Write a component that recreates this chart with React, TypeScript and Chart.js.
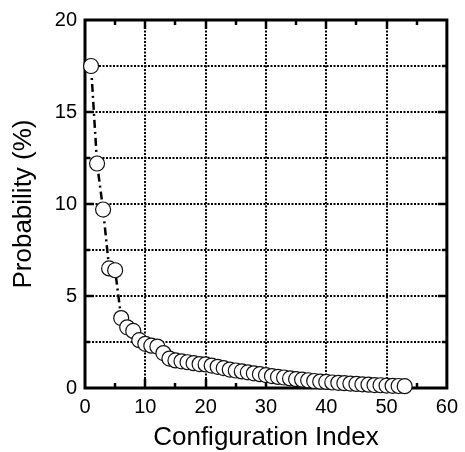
import React, { useEffect, useRef } from "react";
import { Chart, registerables } from "chart.js";

Chart.register(...registerables);

const configIndex: number[] = Array.from({ length: 53 }, (_, i) => i + 1);
const probability: number[] = [
  17.5, 12.2, 9.7, 6.5, 6.4, 3.8, 3.3, 3.1, 2.6, 2.4,
  2.3, 2.25, 1.9, 1.6, 1.5, 1.45, 1.4, 1.35, 1.3, 1.28,
  1.22, 1.15, 1.08, 1.0, 0.95, 0.9, 0.85, 0.8, 0.75, 0.7,
  0.65, 0.6, 0.57, 0.52, 0.48, 0.45, 0.42, 0.38, 0.35, 0.33,
  0.3, 0.28, 0.26, 0.24, 0.22, 0.2, 0.18, 0.16, 0.15, 0.13,
  0.12, 0.11, 0.1,
];

const xGridValues = [10, 20, 30, 40, 50];
const yGridValues = [2.5, 5, 7.5, 10, 12.5, 15, 17.5];
const xMajorTicks = [10, 20, 30, 40, 50];
const xMinorTicks = [5, 15, 25, 35, 45, 55];
const yMajorTicks = [5, 10, 15];
const yMinorTicks = [2.5, 7.5, 12.5, 17.5];

const FONT = "'Liberation Sans', Arial, Helvetica, sans-serif";

const framePlugin = {
  id: "frame",
  beforeDatasetsDraw(chart: any) {
    const { ctx, chartArea } = chart;
    const { left, right, top, bottom } = chartArea;
    const xs = chart.scales.x;
    const ys = chart.scales.y;
    const line = (x1: number, y1: number, x2: number, y2: number) => {
      ctx.beginPath();
      ctx.moveTo(x1, y1);
      ctx.lineTo(x2, y2);
      ctx.stroke();
    };
    ctx.save();
    ctx.strokeStyle = "#000";
    ctx.lineWidth = 2;
    ctx.setLineDash([2, 1.5]);
    for (const v of xGridValues) {
      const px = Math.round(xs.getPixelForValue(v));
      line(px, top, px, bottom);
    }
    for (const v of yGridValues) {
      const py = Math.round(ys.getPixelForValue(v));
      line(left, py, right, py);
    }
    ctx.setLineDash([]);
    ctx.lineWidth = 2.5;
    const majorLen = 9;
    const minorLen = 5;
    for (const v of xMajorTicks) {
      const px = Math.round(xs.getPixelForValue(v));
      line(px, bottom, px, bottom - majorLen);
      line(px, top, px, top + majorLen);
    }
    for (const v of xMinorTicks) {
      const px = Math.round(xs.getPixelForValue(v));
      line(px, bottom, px, bottom - minorLen);
      line(px, top, px, top + minorLen);
    }
    for (const v of yMajorTicks) {
      const py = Math.round(ys.getPixelForValue(v));
      line(left, py, left + majorLen, py);
      line(right, py, right - majorLen, py);
    }
    for (const v of yMinorTicks) {
      const py = Math.round(ys.getPixelForValue(v));
      line(left, py, left + minorLen, py);
      line(right, py, right - minorLen, py);
    }
    ctx.lineWidth = 3;
    ctx.strokeRect(left, top, right - left, bottom - top);
    ctx.restore();
  },
};

export default function App() {
  const canvasRef = useRef<HTMLCanvasElement | null>(null);

  useEffect(() => {
    if (!canvasRef.current) return;
    Chart.defaults.font.family = FONT;
    const chart = new Chart(canvasRef.current, {
      type: "scatter",
      data: {
        datasets: [
          {
            data: configIndex.map((x, i) => ({ x, y: probability[i] })),
            showLine: true,
            borderColor: "#000",
            borderWidth: 2.5,
            borderDash: [8, 4, 2, 4],
            pointRadius: 7.5,
            pointBackgroundColor: "#fff",
            pointBorderColor: "#111",
            pointBorderWidth: 1.2,
            clip: false as any,
          } as any,
        ],
      },
      options: {
        responsive: false,
        animation: false,
        layout: { padding: { top: 20, right: 13, left: 0, bottom: 0 } },
        plugins: { legend: { display: false }, tooltip: { enabled: false } },
        scales: {
          x: {
            type: "linear",
            min: 0,
            max: 60,
            grid: { display: false, drawTicks: false },
            border: { display: false },
            ticks: {
              stepSize: 10,
              color: "#000",
              padding: 7,
              maxRotation: 0,
              font: { size: 20, family: FONT },
            },
            title: {
              display: true,
              text: "Configuration Index",
              color: "#000",
              font: { size: 26, family: FONT },
              padding: { top: 0, bottom: -1 },
            },
            afterFit(scale: any) {
              scale.height = 64;
            },
          },
          y: {
            type: "linear",
            min: 0,
            max: 20,
            grid: { display: false, drawTicks: false },
            border: { display: false },
            ticks: {
              stepSize: 5,
              color: "#000",
              padding: 8,
              font: { size: 20, family: FONT },
            },
            title: {
              display: true,
              text: "Probability (%)",
              color: "#000",
              font: { size: 26, family: FONT },
              padding: { top: 8, bottom: 0 },
            },
            afterFit(scale: any) {
              scale.width = 85;
            },
          },
        },
      },
      plugins: [framePlugin],
    });
    return () => chart.destroy();
  }, []);

  return (
    <div style={{ position: "fixed", left: 0, top: 0, width: 465, height: 452, background: "#fff" }}>
      <canvas ref={canvasRef} width={465} height={452} />
    </div>
  );
}
